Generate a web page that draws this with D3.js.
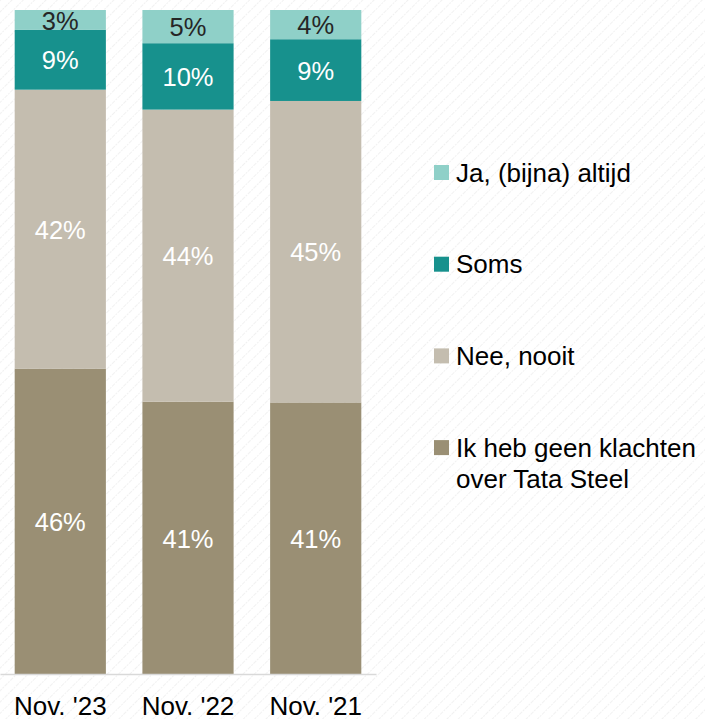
<!DOCTYPE html>
<html>
<head>
<meta charset="utf-8">
<script src="https://cdn.jsdelivr.net/npm/d3@7"></script>
<style>
  body { margin: 0; background: #fff; }
  text { font-family: "Liberation Sans", Arial, sans-serif; }
</style>
</head>
<body>
<div id="chart"></div>
<script>
// data
let periods = ["Nov. '23", "Nov. '22", "Nov. '21"];
let series = ["Ik heb geen klachten over Tata Steel", "Nee, nooit", "Soms", "Ja, (bijna) altijd"];
let geenKlachten = [46, 41, 40.9];
let neeNooit = [42, 44, 45.4];
let soms = [9, 10, 9.3];
let jaAltijd = [3, 5, 4.4];
let colors = ["#9a8f74", "#c4bdaf", "#17918d", "#8fd0c8"];
let labelColors = ["#ffffff", "#ffffff", "#ffffff", "#262626"];

let width = 705;
let height = 719;

let svg = d3.select('#chart').append('svg')
  .attr('width', width)
  .attr('height', height)

// faint diagonal stripes in the background
let defs = svg.append('defs')
let pat = defs.append('pattern')
  .attr('id', 'stripes')
  .attr('width', 8)
  .attr('height', 8)
  .attr('patternUnits', 'userSpaceOnUse')
  .attr('patternTransform', 'rotate(45)')
pat.append('rect').attr('width', 8).attr('height', 8).attr('fill', '#ffffff')
pat.append('line')
  .attr('x1', 0).attr('y1', 0).attr('x2', 0).attr('y2', 8)
  .attr('stroke', '#f1f1f1')
  .attr('stroke-width', 2)
  .attr('stroke-dasharray', '2,1')
svg.append('rect')
  .attr('width', width)
  .attr('height', height)
  .attr('fill', 'url(#stripes)')

let table = periods.map((p, i) => ({
  period: p,
  [series[0]]: geenKlachten[i],
  [series[1]]: neeNooit[i],
  [series[2]]: soms[i],
  [series[3]]: jaAltijd[i]
}));

let stacked = d3.stack().keys(series)(table);

let x = d3.scaleBand()
  .domain(periods)
  .range([0, 376])
  .paddingInner(0.286)
  .paddingOuter(0.115);

let y = d3.scaleLinear()
  .domain([0, 100])
  .range([674, 10]);

let layers = svg.selectAll('.layer')
  .data(stacked)
  .enter()
  .append('g').classed('layer', true)
  .attr('fill', (d, i) => colors[i]);

layers.selectAll('rect')
  .data(d => d)
  .enter()
  .append('rect')
  .attr('x', d => x(d.data.period))
  .attr('y', d => y(d[1]))
  .attr('width', x.bandwidth())
  .attr('height', d => y(d[0]) - y(d[1]));

layers.each(function(layer, i) {
  d3.select(this).selectAll('text')
    .data(layer)
    .enter()
    .append('text')
    .attr('x', d => x(d.data.period) + x.bandwidth() / 2)
    .attr('y', d => (y(d[0]) + y(d[1])) / 2)
    .attr('dy', '0.38em')
    .attr('text-anchor', 'middle')
    .attr('font-size', 25.5)
    .attr('fill', labelColors[i])
    .text(d => Math.round(d[1] - d[0]) + '%');
});

// x axis
let axis = svg.append('g')
  .attr('transform', 'translate(0,674)')
  .call(d3.axisBottom(x).tickSize(0).tickSizeOuter(0).tickPadding(23));
axis.select('.domain').attr('stroke', '#d9d9d9').attr('stroke-width', 1.5);
axis.selectAll('text')
  .attr('font-size', 26)
  .attr('fill', '#000')
  .style('font-family', '"Liberation Sans", Arial, sans-serif');

// legend, top to bottom like the stack
let legendItems = series.slice().reverse();
let legendColors = colors.slice().reverse();
let legend = svg.selectAll('.legend')
  .data(legendItems)
  .enter()
  .append('g').classed('legend', true)
  .attr('transform', (d, i) => 'translate(434,' + (181.5 + i * 91.7) + ')');

legend.append('rect')
  .attr('x', 0)
  .attr('y', -16.5)
  .attr('width', 15)
  .attr('height', 15)
  .attr('fill', (d, i) => legendColors[i]);

legend.append('text')
  .attr('x', 22)
  .attr('font-size', 26)
  .attr('fill', '#000')
  .each(function(d) {
    let t = d3.select(this);
    let lines = d === series[0] ? ["Ik heb geen klachten", "over Tata Steel"] : [d];
    lines.forEach((l, j) => {
      t.append('tspan').attr('x', 22).attr('dy', j === 0 ? 0 : 31.5).text(l);
    });
  });
</script>
</body>
</html>
